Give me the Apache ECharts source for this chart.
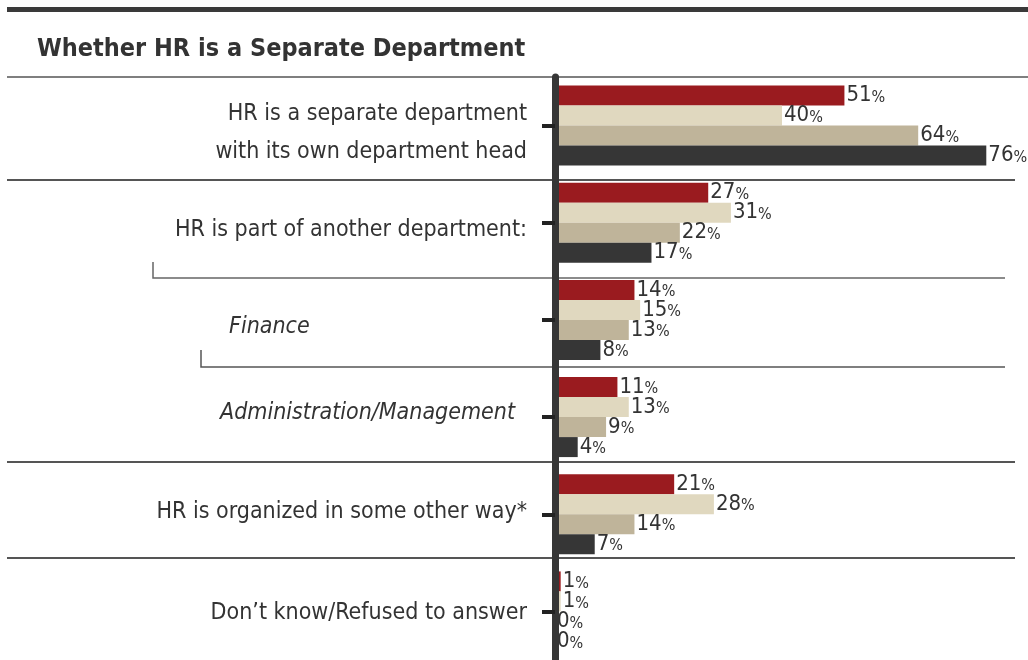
<!DOCTYPE html>
<html style="height: 100%">
   <head>
       <meta charset="utf-8">
   </head>
   <body style="height: 100%; margin: 0; background: #fff">
       <div id="container" style="width: 1028px; height: 660px"></div>
       <script type="text/javascript" src="https://cdn.jsdelivr.net/npm/echarts@6/dist/echarts.min.js"></script>
       <script type="text/javascript">
var dom = document.getElementById("container");
var myChart = echarts.init(dom);

// categories, top to bottom
var categories = [
    'HR is a separate department\nwith its own department head',
    'HR is part of another department:',
    'Finance',
    'Administration/Management',
    'HR is organized in some other way*',
    'Don\u2019t know/Refused to answer'
];
// four groups, drawn top to bottom within each category
var seriesNames = ['Series 1', 'Series 2', 'Series 3', 'Series 4'];
var seriesColors = ['#9a1b1f', '#e0d8bf', '#bfb49a', '#363636'];
var values1 = [51, 27, 14, 11, 21, 1];
var values2 = [40, 31, 15, 13, 28, 1];
var values3 = [64, 22, 13, 9, 14, 0];
var values4 = [76, 17, 8, 4, 7, 0];
var allValues = [values1, values2, values3, values4];

var narrow = "'Liberation Sans Narrow', 'DejaVu Sans Condensed', sans-serif";

// small vertical nudges of the category labels
var labelPad = [[14, 0, 0, 0], [14, 0, 0, 0], [14, 0, 0, 0], [0, 0, 8, 0], [0, 0, 4, 0], [4, 0, 0, 0]];
var yData = categories.map(function (c, i) {
    return { value: c, textStyle: { padding: labelPad[i] } };
});

var series = allValues.map(function (vals, i) {
    return {
        type: 'bar',
        name: seriesNames[i],
        data: vals,
        barWidth: 20,
        barGap: '0%',
        itemStyle: { color: seriesColors[i] },
        label: {
            show: true,
            position: 'right',
            distance: 2,
            formatter: '{n|{c}}{p|%}',
            rich: {
                n: { fontFamily: narrow, fontSize: 22, color: '#333' },
                p: { fontFamily: narrow, fontSize: 16, color: '#333', padding: [4, 0, 0, 0] }
            }
        },
        z: 2
    };
});

option = {
    animation: false,
    title: {
        text: 'Whether HR is a Separate Department',
        left: 32,
        top: 32,
        textStyle: {
            fontFamily: narrow,
            fontWeight: 'bold',
            fontSize: 25,
            color: '#333'
        }
    },
    grid: {
        left: 555,
        right: 19,
        top: 77,
        bottom: -2
    },
    xAxis: {
        type: 'value',
        min: 0,
        max: 80,
        show: false
    },
    yAxis: {
        type: 'category',
        data: yData,
        inverse: true,
        offset: 4,
        z: 10,
        axisLine: { show: true, lineStyle: { color: '#363636', width: 7 } },
        axisTick: { show: true, alignWithLabel: true, length: 13, lineStyle: { color: '#222', width: 4 } },
        axisLabel: {
            margin: 24,
            fontFamily: narrow,
            fontSize: 23,
            color: '#333',
            lineHeight: 38,
            formatter: function (v) {
                if (v === 'Finance') return '{fin|' + v + '}';
                if (v === 'Administration/Management') return '{adm|' + v + '}';
                return v;
            },
            rich: {
                fin: { fontFamily: narrow, fontSize: 23, fontStyle: 'italic', color: '#333', width: 298, align: 'left' },
                adm: { fontFamily: narrow, fontSize: 23, fontStyle: 'italic', color: '#333', width: 307, align: 'left' }
            }
        },
        splitLine: { show: false }
    },
    graphic: [
        { type: 'rect', shape: { x: 7, y: 7, width: 1021, height: 5 }, style: { fill: '#3a3a3a' } },
        { type: 'line', shape: { x1: 7, y1: 77, x2: 1028, y2: 77 }, style: { stroke: '#555', lineWidth: 1.5 } },
        { type: 'line', shape: { x1: 7, y1: 180, x2: 1015, y2: 180 }, style: { stroke: '#555', lineWidth: 2 } },
        { type: 'polyline', shape: { points: [[153, 262], [153, 278], [1005, 278]] }, style: { stroke: '#666', lineWidth: 1.5, fill: null } },
        { type: 'polyline', shape: { points: [[201, 350], [201, 367], [1005, 367]] }, style: { stroke: '#555', lineWidth: 1.5, fill: null } },
        { type: 'line', shape: { x1: 7, y1: 462, x2: 1015, y2: 462 }, style: { stroke: '#555', lineWidth: 2 } },
        { type: 'line', shape: { x1: 7, y1: 558, x2: 1015, y2: 558 }, style: { stroke: '#555', lineWidth: 2 } }
    ],
    series: series
};
myChart.setOption(option, true);
       </script>
   </body>
</html>
